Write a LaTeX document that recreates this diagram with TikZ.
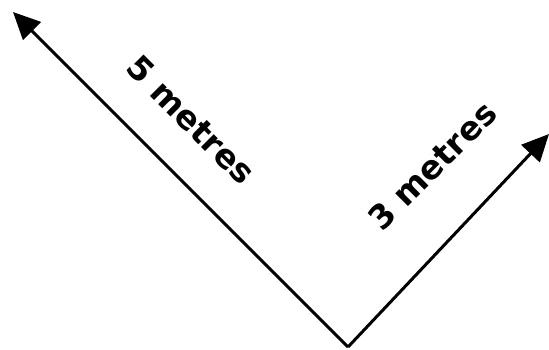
\documentclass[tikz,border=0pt]{standalone}
\usepackage{fontspec}
\setmainfont{DejaVu Sans}
\usetikzlibrary{arrows.meta}
\begin{document}
\begin{tikzpicture}[x=1pt, y=-1pt,
	vec/.style={line width=3pt, -{Triangle[length=27pt, width=25pt]}},
	lbl/.style={font=\bfseries\fontsize{33}{33}\selectfont, inner sep=0pt}]
		\useasboundingbox (0,0) rectangle (549,349);
		
		%PUNTI
		\coordinate (base) at (348,347);
		\coordinate (far) at (13,12);
		\coordinate (near) at (549,134);
		
		%VETTORI
		\draw[vec] (base) -- (far);
		\draw[vec] (base) -- (near);
		
		%ETICHETTE
		\node[lbl, rotate=-45] (five) at (191,120) {5 metres};
		\node[lbl, rotate=45] (three) at (432,166) {3 metres};
	\end{tikzpicture}
\end{document}
